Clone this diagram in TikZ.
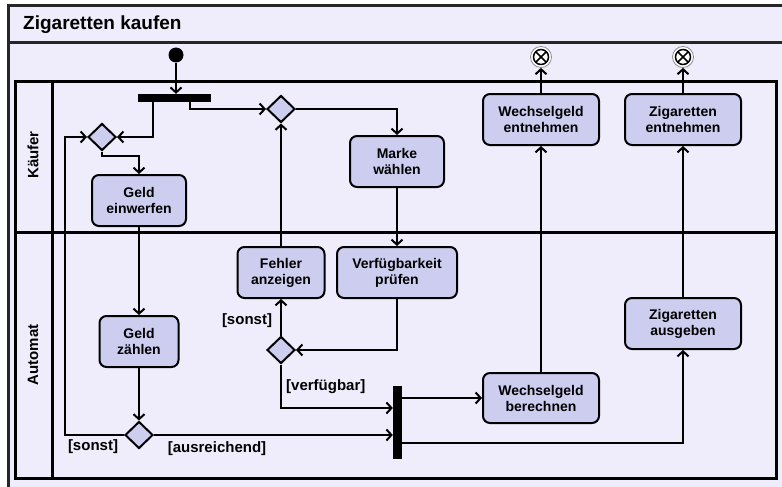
\documentclass[tikz,border=0pt]{standalone}
\usepackage{fontspec}
\setmainfont{Liberation Sans}
\usetikzlibrary{shapes.geometric,arrows.meta,calc}
\definecolor{bgc}{HTML}{EFEDFB}
\definecolor{boxc}{HTML}{CDCDF0}
\begin{document}
\begin{tikzpicture}[x=1pt,y=-1pt,
  action/.style={draw, line width=2pt, rounded corners=7pt, fill=boxc, align=center,
     font=\fontsize{14}{16}\selectfont\bfseries, inner sep=0pt},
  decision/.style={draw, diamond, line width=2pt, fill=boxc, minimum width=28pt, minimum height=27pt, inner sep=0pt},
  bar/.style={fill=black, draw=none, inner sep=0pt},
  flow/.style={line width=2pt, -{Straight Barb[length=5pt,width=11pt]}},
  guard/.style={font=\fontsize{15}{17}\selectfont\bfseries, inner sep=0pt},
  lane/.style={line width=3pt},
  lanelabel/.style={font=\fontsize{15}{17}\selectfont\bfseries, rotate=90, inner sep=0pt}]
\useasboundingbox (0,0) rectangle (782,487);
\fill[white] (0,0) rectangle (782,487);
% outer frame
\filldraw[fill=bgc, draw=black!85, line width=3pt] (8.5,5.5) rectangle (790,495);
\draw[black!85, line width=3pt] (8.5,42.5) -- (790,42.5);
\node[anchor=west, font=\fontsize{19}{21}\selectfont\bfseries, inner sep=0pt] (title) at (23,25) {Zigaretten kaufen};
% swimlanes
\draw[lane] (15.5,81.5) rectangle (776.5,478.5);
\draw[lane] (52.5,81.5) -- (52.5,478.5);
\draw[lane] (15.5,232.5) -- (776.5,232.5);
\node[lanelabel] (kl) at (33,155) {Käufer};
\node[lanelabel] (al) at (33,355) {Automat};
% nodes
\node[circle, fill=black, minimum size=15pt, inner sep=0pt] (init) at (176,55) {};
\node[bar, minimum width=73pt, minimum height=8pt] (fork) at (174.5,98) {};
\node[decision] (d1) at (102,137) {};
\node[decision] (d2) at (281,109) {};
\node[action, minimum width=94pt, minimum height=51pt] (geldE) at (139,200.5) {Geld\\einwerfen};
\node[action, minimum width=79pt, minimum height=51pt] (geldZ) at (139,341.5) {Geld\\zählen};
\node[decision] (d3) at (139,435) {};
\node[action, minimum width=94pt, minimum height=51pt] (marke) at (397,161.5) {Marke\\wählen};
\node[action, minimum width=120pt, minimum height=51pt] (verf) at (397,272.5) {Verfügbarkeit\\prüfen};
\node[action, minimum width=87pt, minimum height=51pt] (fehler) at (281,272.5) {Fehler\\anzeigen};
\node[decision] (d4) at (281,350) {};
\node[bar, minimum width=9pt, minimum height=73pt] (join) at (397.5,422.5) {};
\node[action, minimum width=116pt, minimum height=50pt] (wbere) at (541,398) {Wechselgeld\\berechnen};
\node[action, minimum width=116pt, minimum height=51pt] (zaus) at (683,323.5) {Zigaretten\\ausgeben};
\node[action, minimum width=116pt, minimum height=51pt] (went) at (541,119.5) {Wechselgeld\\entnehmen};
\node[action, minimum width=116pt, minimum height=51pt] (zent) at (683,119.5) {Zigaretten\\entnehmen};
% flow final nodes
\foreach \n/\x in {end1/541, end2/683}{
  \node[circle, draw=black!45, line width=0.8pt, fill=white, minimum size=21pt, inner sep=0pt] (\n) at (\x,57) {};
  \draw[line width=1.5pt] (\n.center) circle (7.5pt);
  \draw[line width=1.5pt] ($(\n.center)+(-5.3,-5.3)$) -- ($(\n.center)+(5.3,5.3)$);
  \draw[line width=1.5pt] ($(\n.center)+(-5.3,5.3)$) -- ($(\n.center)+(5.3,-5.3)$);
}
% connectors
\draw[flow] (init) -- (init |- fork.north);
\draw[flow] ($(fork.south west)+(15,0)$) |- (d1.east);
\draw[flow] ($(fork.south west)+(52,0)$) |- (d2.west);
\draw[flow] (d1.south) -- ++(0,4) -| (geldE.north);
\draw[flow] (geldE) -- (geldZ);
\draw[flow] (geldZ) -- (d3);
\coordinate (lp) at (65,435);
\draw[flow] (d3.west) -- (lp) |- (d1.west);
\draw[flow] (d3.east) -- (d3.east -| join.west);
\draw[flow] (d2.east) -| (marke.north);
\draw[flow] (marke) -- (verf);
\draw[flow] (verf.south) |- (d4.east);
\draw[flow] (d4) -- (fehler);
\draw[flow] (fehler) -- (d2);
\draw[flow] (d4.south) |- ($(join.west)+(0,-14.5)$);
\draw[flow] (join.east |- wbere.west) -- (wbere.west);
\draw[flow] ($(join.east)+(0,20.5)$) -| (zaus.south);
\draw[flow] (wbere) -- (went);
\draw[flow] (zaus) -- (zent);
\draw[flow] (went) -- (end1);
\draw[flow] (zent) -- (end2);
% guards
\node[guard] (g1) at (93,447) {[sonst]};
\node[guard] (g2) at (217,449) {[ausreichend]};
\node[guard] (g3) at (247,321) {[sonst]};
\node[guard, anchor=west] (g4) at (286,387) {[verfügbar]};
\end{tikzpicture}
\end{document}
